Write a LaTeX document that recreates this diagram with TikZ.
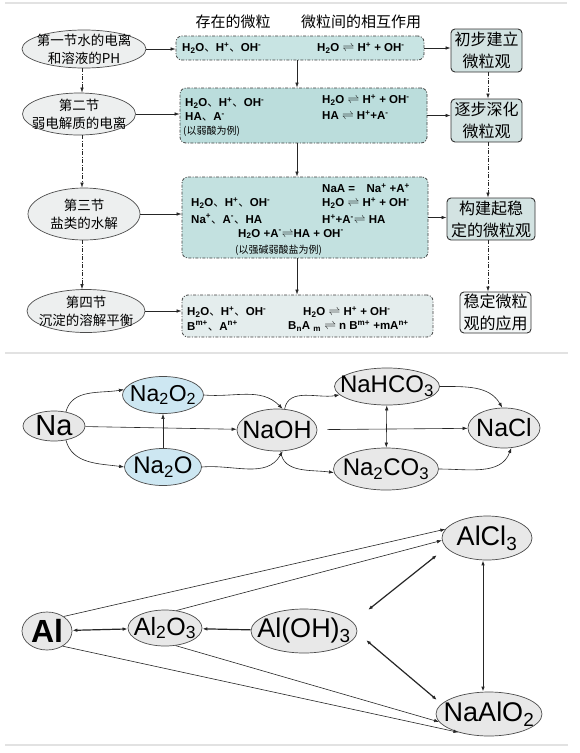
\documentclass[tikz,border=0pt]{standalone}
\usepackage{fontspec}
\setmainfont{Liberation Sans}
\newfontfamily\cjk{Noto Sans CJK SC}
\usetikzlibrary{shapes.geometric,arrows.meta}

\newcommand{\fsz}[2]{\fontsize{#1}{#2}\selectfont}
\newcommand{\dn}{{\cjk\mdseries 、}}
\newcommand{\eqm}{$\rightleftharpoons$}
\newcommand{\su}[1]{\textsuperscript{#1}}
\newcommand{\sd}[1]{\textsubscript{#1}}

\definecolor{boxA}{HTML}{C8E4E3}
\definecolor{boxB}{HTML}{BBDDDC}
\definecolor{boxC}{HTML}{C3E1E0}
\definecolor{boxD}{HTML}{E4EDED}
\definecolor{viewA}{HTML}{D3E3E2}
\definecolor{viewD}{HTML}{F2F5F5}
\definecolor{naBlue}{HTML}{CDE7F2}
\definecolor{ovalGray}{HTML}{E8E8E8}
\definecolor{secGray}{HTML}{EDEFEF}
\definecolor{sepGray}{HTML}{E2E2E2}

\tikzset{
  sec/.style={ellipse, draw=black!70, fill=secGray, line width=0.7pt, inner sep=0pt},
  secfont/.style={font=\cjk\fsz{13.5}{18}, align=center},
  partbox/.style={rectangle, rounded corners=6pt, draw=black!75, line width=0.8pt,
    dash pattern=on 3pt off 1.5pt on 1pt off 1.5pt, inner sep=0pt},
  chemtxt/.style={font=\bfseries\fsz{11.5}{13}, inner sep=0pt, anchor=west},
  note/.style={font=\cjk\fsz{10}{11}, inner sep=0pt, anchor=west},
  viewbox/.style={rectangle, rounded corners=4pt, draw=black!80, line width=0.9pt, inner sep=0pt},
  viewfont/.style={font=\cjk\fsz{16}{22}, align=center},
  colhead/.style={font=\cjk\fsz{15}{18}},
  oval/.style={ellipse, draw=black!70, line width=0.7pt, fill=ovalGray, inner sep=0pt},
  arr/.style={-{Latex[length=5pt,width=3.5pt]}, line width=0.6pt, draw=black!85},
  darr/.style={{Latex[length=5pt,width=3.5pt]}-{Latex[length=5pt,width=3.5pt]}, line width=0.6pt, draw=black!85},
  dd/.style={arr, dash pattern=on 4pt off 1.5pt on 1pt off 1.5pt}
}

\begin{document}
\begin{tikzpicture}[x=1pt,y=1pt]
    \fill[white] (0,0) rectangle (580,-753);
    \useasboundingbox (0,0) rectangle (580,-753);

    % separators
    \draw[sepGray, line width=1.5pt] (5,-3) -- (567,-3);
    \draw[sepGray, line width=1.5pt] (5,-353) -- (568,-353);
    \draw[sepGray, line width=1.5pt] (5,-745) -- (568,-745);

    % top part
    \node[colhead] (h1) at (233,-22) {存在的微粒};
    \node[colhead] (h2) at (361,-22) {微粒间的相互作用};

    \node[sec, minimum width=124, minimum height=38, label={[secfont]center:第一节水的电离\\和溶液的PH}] (s1) at (84,-49) {};
    \node[sec, minimum width=113, minimum height=42, label={[secfont]center:第二节\\弱电解质的电离}] (s2) at (79,-114) {};
    \node[sec, minimum width=112, minimum height=52, label={[secfont]center:第三节\\盐类的水解}] (s3) at (84,-214) {};
    \node[sec, minimum width=118, minimum height=43, label={[secfont]center:第四节\\沉淀的溶解平衡}] (s4) at (86,-311) {};

    \node[partbox, fill=boxA, minimum width=248, minimum height=24] (b1) at (300,-48) {};
    \node[partbox, fill=boxB, minimum width=247, minimum height=55] (b2) at (303.5,-115.5) {};
    \node[partbox, fill=boxC, minimum width=246, minimum height=81] (b3) at (305,-217.5) {};
    \node[partbox, fill=boxD, minimum width=251, minimum height=42] (b4) at (307.5,-316) {};

    \node[chemtxt] (b1l) at (182,-48) {H\sd{2}O\dn H\su{+}\dn OH\su{-}};
    \node[chemtxt] (b1r) at (317,-48) {H\sd{2}O \eqm{} H\su{+} + OH\su{-}};

    \node[chemtxt] (b2l1) at (185,-103) {H\sd{2}O\dn H\su{+}\dn OH\su{-}};
    \node[chemtxt] (b2l2) at (185,-117) {HA\dn A\su{-}};
    \node[note] (b2n) at (183,-131) {(以弱酸为例)};
    \node[chemtxt] (b2r1) at (322,-100) {H\sd{2}O \eqm{} H\su{+} + OH\su{-}};
    \node[chemtxt] (b2r2) at (322,-115) {HA \eqm{} H\su{+}+A\su{-}};

    \node[chemtxt] (b3r1) at (322,-188) {NaA =\quad Na\su{+} +A\su{+}};
    \node[chemtxt] (b3r2) at (322,-203) {H\sd{2}O \eqm{} H\su{+} + OH\su{-}};
    \node[chemtxt] (b3r3) at (322,-219) {H\su{+}+A\su{-}\eqm{} HA};
    \node[chemtxt] (b3l1) at (191,-203) {H\sd{2}O\dn H\su{+}\dn OH\su{-}};
    \node[chemtxt] (b3l2) at (191,-219) {Na\su{+}\dn A\su{-}\dn HA};
    \node[chemtxt] (b3m) at (238,-234) {H\sd{2}O +A\su{-}\eqm{}HA + OH\su{-}};
    \node[note] (b3n) at (235,-250) {(以强碱弱酸盐为例)};

    \node[chemtxt] (b4l1) at (187,-312) {H\sd{2}O\dn H\su{+}\dn OH\su{-}};
    \node[chemtxt] (b4l2) at (187,-326) {B\su{m+}\dn A\su{n+}};
    \node[chemtxt] (b4r1) at (303,-312) {H\sd{2}O \eqm{} H\su{+} + OH\su{-}};
    \node[chemtxt] (b4r2) at (288,-326) {B\sd{n}A \sd{m} \eqm{} n B\su{m+} +mA\su{n+}};

    \node[viewbox, fill=viewA, minimum width=71, minimum height=43, label={[viewfont]center:初步建立\\微粒观}] (r1) at (486.5,-50.5) {};
    \node[viewbox, fill=viewA, minimum width=71, minimum height=43, label={[viewfont]center:逐步深化\\微粒观}] (r2) at (486.5,-120.5) {};
    \node[viewbox, fill=viewA, minimum width=88, minimum height=42, label={[viewfont]center:构建起稳\\定的微粒观}] (r3) at (491,-219) {};
    \node[viewbox, fill=viewD, minimum width=71, minimum height=41, label={[viewfont]center:稳定微粒\\观的应用}] (r4) at (495.5,-312.5) {};

    \draw[arr] (s1.east) -- (s1.east -| b1.west);
    \draw[arr] (s2.east) -- (s2.east -| b2.west);
    \draw[arr] (s3.east) -- (s3.east -| b3.west);
    \draw[arr] (s4.east) -- (s4.east -| b4.west);

    \draw[arr] (b1.east) -- (b1.east -| r1.west);
    \draw[arr] (b2.east) -- (b2.east -| r2.west);
    \draw[arr] (b3.east) -- (b3.east -| r3.west);

    \draw[arr] ([xshift=-3pt]b1.south) -- ([xshift=-3pt]b1.south |- b2.north);
    \draw[arr] ([xshift=-3pt]b1.south |- b2.south) -- ([xshift=-3pt]b1.south |- b3.north);
    \draw[arr] ([xshift=-3pt]b1.south |- b3.south) -- ([xshift=-3pt]b1.south |- b4.north);

    \draw[dd] ([xshift=-2pt]s1.south) -- ([xshift=-2pt]s1.south |- s2.north);
    \draw[dd] ([xshift=-2pt]s1.south |- s2.south) -- ([xshift=-2pt]s1.south |- s3.north);
    \draw[dd] ([xshift=-2pt]s1.south |- s3.south) -- ([xshift=-2pt]s1.south |- s4.north);

    \draw[dd] ([xshift=1.5pt]r1.south) -- ([xshift=1.5pt]r1.south |- r2.north);
    \draw[dd] ([xshift=1.5pt]r1.south |- r2.south) -- ([xshift=1.5pt]r1.south |- r3.north);
    \draw[dd] ([xshift=1.5pt]r1.south |- r3.south) -- ([xshift=1.5pt]r1.south |- r4.north);

    % sodium
    \node[oval, minimum width=62, minimum height=30, label={[font=\fsz{29}{29}]center:Na}] (na) at (54,-426) {};
    \node[oval, fill=naBlue, minimum width=81, minimum height=37, label={[font=\fsz{23}{23}]center:Na\sd{2}O\sd{2}}] (na2o2) at (163,-395) {};
    \node[oval, fill=naBlue, minimum width=77, minimum height=37, label={[font=\fsz{24}{24}]center:Na\sd{2}O}] (na2o) at (163,-467) {};
    \node[oval, minimum width=80, minimum height=42, label={[font=\fsz{25}{25}]center:NaOH}] (naoh) at (277,-430) {};
    \node[oval, minimum width=105, minimum height=37, label={[font=\fsz{24}{24}]center:NaHCO\sd{3}}] (nahco3) at (387,-386.5) {};
    \node[oval, minimum width=105, minimum height=42, label={[font=\fsz{24}{24}]center:Na\sd{2}CO\sd{3}}] (na2co3) at (386,-469) {};
    \node[oval, minimum width=72, minimum height=40, label={[font=\fsz{25}{25}]center:NaCl}] (nacl) at (504,-428) {};

    \draw[arr] (na.50) to[out=75,in=190] (na2o2.172);
    \draw[arr] (na.-50) to[out=-75,in=172] (na2o.west);
    \draw[arr] (na) -- (naoh);
    \draw[arr] (na2o) -- (na2o2);
    \draw[arr] (na2o2.east) to[out=-5,in=135] (naoh.75);
    \draw[arr] (na2o.east) to[out=5,in=-120] (naoh.-75);
    \draw[arr] (naoh.70) to[out=80,in=190] (nahco3.190);
    \draw[arr] (naoh.-80) to[out=-85,in=172] (na2co3.184);
    \draw[darr] (nahco3) -- (na2co3);
    \draw[arr, shorten <=10pt] (naoh) -- (nacl);
    \draw[arr] (nahco3.east) to[out=0,in=120] (nacl.95);
    \draw[arr] (na2co3.east) to[out=0,in=-110] (nacl.-70);

    % aluminium
    \node[oval, minimum width=50, minimum height=38, label={[font=\bfseries\fsz{32}{32}]center:Al}] (al) at (47,-631) {};
    \node[oval, minimum width=74, minimum height=36, label={[font=\fsz{25}{25}]center:Al\sd{2}O\sd{3}}] (al2o3) at (165,-628) {};
    \node[oval, minimum width=106, minimum height=44, label={[font=\fsz{27}{27}]center:Al(OH)\sd{3}}] (aloh3) at (304,-631) {};
    \node[oval, minimum width=90, minimum height=44, label={[font=\fsz{27}{27}]center:AlCl\sd{3}}] (alcl3) at (487,-538) {};
    \node[oval, minimum width=106, minimum height=44, label={[font=\fsz{27}{27}]center:NaAlO\sd{2}}] (naalo2) at (489,-714) {};

    \draw[arr] (al.41) -- (alcl3.168);
    \draw[arr] (al2o3.57) -- (alcl3.183);
    \draw[darr, line width=1.2pt] (al) -- (al2o3);
    \draw[arr, line width=1.2pt] (aloh3) -- (al2o3);
    \draw[darr, line width=1.2pt] ([shift={(-50,-17)}]alcl3.center) -- ([shift={(64,21)}]aloh3.center);
    \draw[darr, line width=1.2pt] ([shift={(62,-9)}]aloh3.center) -- ([shift={(-52,14)}]naalo2.center);
    \draw[darr, line width=1pt] ([xshift=-4pt]alcl3.south) -- ([xshift=-4pt]alcl3.south |- naalo2.north);
    \draw[arr] (al2o3.-59) -- (naalo2.189);
    \draw[arr] (al.-44) -- (naalo2.211);
\end{tikzpicture}
\end{document}
